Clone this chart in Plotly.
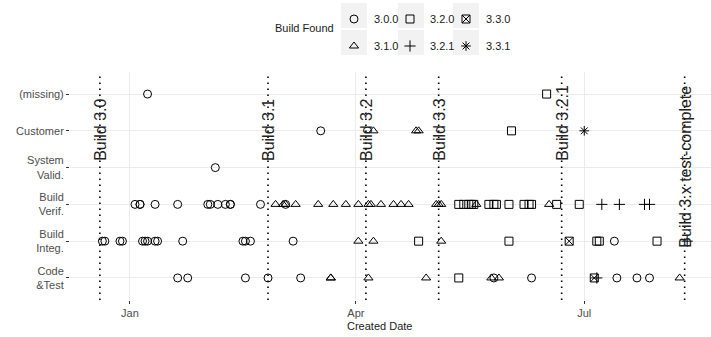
import plotly.graph_objects as go
import pandas as pd

# ---------------- data ----------------
phases = ["Code & Test", "Build Integ.", "Build Verif.", "System Valid.", "Customer", "(missing)"]
phase_labels = ["Code<br>&Test", "Build<br>Integ.", "Build<br>Verif.", "System<br>Valid.", "Customer", "(missing)"]

versions = ["3.0.0", "3.2.0", "3.3.0", "3.1.0", "3.2.1", "3.3.1"]
symbols = ["circle-open", "square-open", "square-x-open", "triangle-up-open", "cross-thin-open", "asterisk-open"]

v300 = {
    "(missing)": ["2013-01-08"],
    "Customer": ["2013-03-18"],
    "System Valid.": ["2013-02-04"],
    "Build Verif.": ["2013-01-03", "2013-01-05", "2013-01-05", "2013-01-11", "2013-01-20", "2013-02-01",
                     "2013-02-02", "2013-02-05", "2013-02-08", "2013-02-10", "2013-02-10", "2013-02-22",
                     "2013-03-04"],
    "Build Integ.": ["2012-12-21", "2012-12-22", "2012-12-28", "2012-12-29", "2013-01-06", "2013-01-07",
                     "2013-01-08", "2013-01-11", "2013-01-12", "2013-01-22", "2013-02-15", "2013-02-16",
                     "2013-02-18", "2013-03-07", "2013-07-13"],
    "Code & Test": ["2013-01-20", "2013-01-24", "2013-02-16", "2013-02-25", "2013-03-10", "2013-05-26",
                    "2013-06-10", "2013-07-14", "2013-07-22", "2013-07-27"],
}
v310 = {
    "Customer": ["2013-04-08", "2013-04-25", "2013-04-26"],
    "Build Verif.": ["2013-02-28", "2013-03-03", "2013-03-04", "2013-03-08", "2013-03-17", "2013-03-23",
                     "2013-03-28", "2013-04-02", "2013-04-06", "2013-04-07", "2013-04-11", "2013-04-16",
                     "2013-04-19", "2013-04-22", "2013-05-03", "2013-05-04", "2013-05-05", "2013-05-19",
                     "2013-06-17"],
    "Build Integ.": ["2013-04-02", "2013-04-08", "2013-05-05"],
    "Code & Test": ["2013-03-22", "2013-03-22", "2013-04-06", "2013-04-29", "2013-05-25", "2013-05-28",
                    "2013-08-08"],
}
v320 = {
    "(missing)": ["2013-06-16"],
    "Customer": ["2013-06-02"],
    "Build Verif.": ["2013-05-12", "2013-05-14", "2013-05-16", "2013-05-17", "2013-05-18", "2013-05-24",
                     "2013-05-26", "2013-05-27", "2013-06-01", "2013-06-07", "2013-06-09", "2013-06-10",
                     "2013-06-20", "2013-06-29"],
    "Build Integ.": ["2013-04-26", "2013-06-01", "2013-07-06", "2013-07-07", "2013-07-30"],
    "Code & Test": ["2013-05-12"],
}
v321 = {
    "Build Verif.": ["2013-07-08", "2013-07-15", "2013-07-25", "2013-07-27"],
    "Build Integ.": ["2013-08-11"],
    "Code & Test": ["2013-07-06"],
}
v330 = {
    "Build Integ.": ["2013-06-25"],
    "Code & Test": ["2013-07-05"],
}
v331 = {
    "Customer": ["2013-07-01"],
}
version_data = {"3.0.0": v300, "3.1.0": v310, "3.2.0": v320, "3.2.1": v321, "3.3.0": v330, "3.3.1": v331}

build_names = ["Build 3.0", "Build 3.1", "Build 3.2", "Build 3.3", "Build 3.2.1", "Build 3.x test-complete"]
build_dates = ["2012-12-20", "2013-02-25", "2013-04-05", "2013-05-04", "2013-06-22", "2013-08-10"]

x_ticks = ["2013-01-01", "2013-04-01", "2013-07-01"]
x_tick_labels = ["Jan", "Apr", "Jul"]

# ---------------- figure ----------------
W, H = 711, 337
ML, MR, MT, MB = 70, 0, 72, 37
PW, PH = W - ML - MR, H - MT - MB


def px_x(p):
    return (p - ML) / PW


def px_y(p):
    return (H - MB - p) / PH


FONT = "Liberation Sans, Arial, Helvetica, sans-serif"
fig = go.Figure()

for i, ver in enumerate(versions):
    d = version_data[ver]
    xs, ys = [], []
    for ph in phases:
        for dt in d.get(ph, []):
            xs.append(dt)
            ys.append(ph)
    fig.add_trace(go.Scatter(
        x=xs, y=ys, mode="markers", name=ver,
        marker=dict(symbol=symbols[i], size=8, color="black", line=dict(width=1, color="black")),
        legend="legend" if i < 3 else "legend2",
        legendwidth=40 if i in (2, 5) else None,
        showlegend=True,
    ))

# build lines and labels
label_bottom = [163, 163, 163, 163, 163, 250]
for name, dt, lb in zip(build_names, build_dates, label_bottom):
    fig.add_shape(type="line", x0=dt, x1=dt, xref="x", y0=0, y1=1, yref="paper",
                  line=dict(color="black", width=1.6, dash="1.6px,4.4px"), layer="above")
    fig.add_annotation(x=dt, y=px_y(lb), xref="x", yref="paper", text=name, showarrow=False,
                       textangle=-90, xanchor="center", yanchor="bottom",
                       font=dict(size=16, color="#222", family=FONT))

# legend key backgrounds
for cx in [354, 411, 466]:
    for (y0, y1) in [(3, 28), (30, 55)]:
        fig.add_shape(type="rect", xref="paper", yref="paper",
                      x0=px_x(cx - 13), x1=px_x(cx + 13), y0=px_y(y1), y1=px_y(y0),
                      fillcolor="#f2f2f2", line=dict(width=0), layer="below")

fig.add_annotation(text="Build Found", xref="paper", yref="paper", x=px_x(273), y=px_y(28),
                   xanchor="left", yanchor="middle", showarrow=False,
                   font=dict(size=11, color="#1a1a1a", family=FONT))
fig.add_annotation(text="Created Date", xref="paper", yref="paper", x=px_x(379), y=px_y(326),
                   xanchor="center", yanchor="middle", showarrow=False,
                   font=dict(size=11, color="#1a1a1a", family=FONT))

x0 = pd.Timestamp("2013-01-01") - pd.Timedelta(days=23.9)
x1 = pd.Timestamp("2013-01-01") + pd.Timedelta(days=231.5)

leg_common = dict(orientation="h", xref="container", yref="container", xanchor="left", yanchor="middle",
                  entrywidth=11, entrywidthmode="pixels", bgcolor="rgba(0,0,0,0)",
                  font=dict(size=11, color="#1a1a1a", family=FONT), tracegroupgap=0)

fig.update_layout(
    width=W, height=H,
    margin=dict(l=ML, r=MR, t=MT, b=MB, autoexpand=False),
    paper_bgcolor="white", plot_bgcolor="white",
    font=dict(family=FONT, size=11, color="#4d4d4d"),
    showlegend=True,
    legend=dict(x=334 / W, y=1 - 19 / H, **leg_common),
    legend2=dict(x=334 / W, y=1 - 46 / H, **leg_common),
    xaxis=dict(type="date", range=[x0, x1], tickvals=x_ticks, ticktext=x_tick_labels,
               showgrid=True, gridcolor="#ebebeb", gridwidth=1.1, zeroline=False, showline=False,
               ticks="outside", ticklen=3, tickcolor="#333", tickfont=dict(size=11, color="#4d4d4d")),
    yaxis=dict(type="category", categoryorder="array", categoryarray=phases, range=[-0.6, 5.6],
               tickvals=phases, ticktext=phase_labels,
               showgrid=True, gridcolor="#ebebeb", gridwidth=1.1, zeroline=False, showline=False,
               ticks="outside", ticklen=3, tickcolor="#333", tickfont=dict(size=11, color="#4d4d4d")),
)

fig.write_html("out.html", config={"displayModeBar": False},
               post_script="document.body.style.margin='0';document.body.style.overflow='hidden';")
